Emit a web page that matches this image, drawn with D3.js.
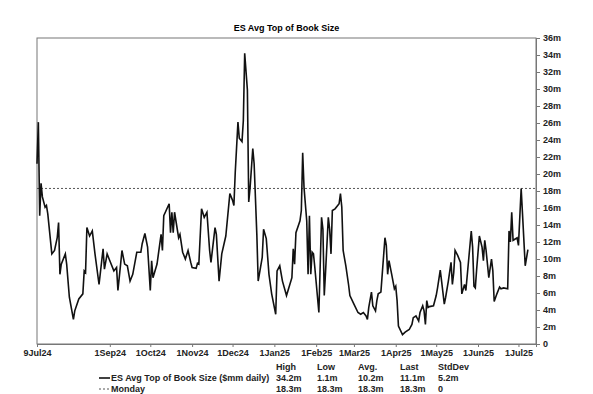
<!DOCTYPE html>
<html>
<head>
<meta charset="utf-8">
<script src="https://cdn.jsdelivr.net/npm/d3@7"></script>
<style>
  body { margin: 0; background: #fff; }
  svg { display: block; font-family: "Liberation Sans", Arial, sans-serif; }
</style>
</head>
<body>
<div id="chart"></div>
<script>
const title = "ES Avg Top of Book Size";
const seriesName = "ES Avg Top of Book Size ($mm daily)";
const refName = "Monday";
const refValue = 18.3;

const dates = [
  "2024-07-09","2024-07-10","2024-07-11","2024-07-12","2024-07-13","2024-07-15","2024-07-16","2024-07-17",
  "2024-07-20","2024-07-22","2024-07-24","2024-07-25","2024-07-26","2024-07-27","2024-07-30","2024-07-31",
  "2024-08-02","2024-08-05","2024-08-06","2024-08-09","2024-08-12","2024-08-13","2024-08-14","2024-08-15",
  "2024-08-17","2024-08-19","2024-08-21","2024-08-24","2024-08-27","2024-08-28","2024-08-30","2024-09-01",
  "2024-09-04","2024-09-06","2024-09-07","2024-09-09","2024-09-10","2024-09-12","2024-09-14","2024-09-16",
  "2024-09-18","2024-09-21","2024-09-24","2024-09-25","2024-09-27","2024-09-29","2024-10-01","2024-10-02",
  "2024-10-03","2024-10-06","2024-10-09","2024-10-10","2024-10-11","2024-10-15","2024-10-16","2024-10-17",
  "2024-10-18","2024-10-19","2024-10-20","2024-10-22","2024-10-23","2024-10-25","2024-10-27","2024-10-29",
  "2024-10-31","2024-11-01","2024-11-04","2024-11-05","2024-11-06","2024-11-08","2024-11-10","2024-11-12",
  "2024-11-14","2024-11-15","2024-11-18","2024-11-19","2024-11-21","2024-11-23","2024-11-26","2024-11-29",
  "2024-12-01","2024-12-02","2024-12-03","2024-12-05","2024-12-06","2024-12-08","2024-12-09","2024-12-10",
  "2024-12-12","2024-12-13","2024-12-14","2024-12-16","2024-12-17","2024-12-19","2024-12-20","2024-12-23",
  "2024-12-24","2024-12-26","2024-12-28","2024-12-30","2025-01-02","2025-01-03","2025-01-05","2025-01-07",
  "2025-01-10","2025-01-14","2025-01-15","2025-01-16","2025-01-17","2025-01-20","2025-01-21","2025-01-22",
  "2025-01-23","2025-01-25","2025-01-26","2025-01-27","2025-01-28","2025-01-29","2025-01-30","2025-01-31",
  "2025-02-03","2025-02-05","2025-02-06","2025-02-07","2025-02-08","2025-02-10","2025-02-11","2025-02-12",
  "2025-02-13","2025-02-15","2025-02-18","2025-02-19","2025-02-20","2025-02-21","2025-02-23","2025-02-25",
  "2025-02-26","2025-03-01","2025-03-04","2025-03-06","2025-03-08","2025-03-10","2025-03-11","2025-03-12",
  "2025-03-14","2025-03-15","2025-03-17","2025-03-18","2025-03-19","2025-03-21","2025-03-24","2025-03-25",
  "2025-03-26","2025-03-27","2025-03-29","2025-03-31","2025-04-01","2025-04-02","2025-04-03","2025-04-06",
  "2025-04-08","2025-04-11","2025-04-13","2025-04-14","2025-04-16","2025-04-18","2025-04-19","2025-04-21",
  "2025-04-22","2025-04-23","2025-04-24","2025-04-25","2025-04-26","2025-04-29","2025-05-01","2025-05-02",
  "2025-05-04","2025-05-05","2025-05-07","2025-05-08","2025-05-10","2025-05-12","2025-05-13","2025-05-14",
  "2025-05-15","2025-05-17","2025-05-19","2025-05-20","2025-05-22","2025-05-23","2025-05-25","2025-05-27",
  "2025-05-28","2025-05-29","2025-05-30","2025-05-31","2025-06-02","2025-06-04","2025-06-05","2025-06-06",
  "2025-06-07","2025-06-09","2025-06-11","2025-06-12","2025-06-13","2025-06-15","2025-06-17","2025-06-18",
  "2025-06-20","2025-06-23","2025-06-24","2025-06-25","2025-06-26","2025-06-27","2025-06-28","2025-06-30",
  "2025-07-01","2025-07-03","2025-07-04","2025-07-06","2025-07-08"
];

const values = [
  21.2, 26.1, 15.1, 18.9, 17.3, 16.1, 16.3, 15.3,
  10.6, 11.0, 12.5, 14.3, 8.2, 9.4, 10.6, 9.4,
  5.5, 2.9, 3.9, 5.3, 5.9, 8.6, 8.4, 13.7,
  12.7, 13.3, 10.6, 7.0, 11.2, 8.8, 10.6, 9.8,
  8.6, 9.0, 6.3, 9.4, 11.0, 9.4, 9.2, 7.4,
  8.2, 10.8, 10.8, 11.8, 13.0, 11.4, 6.3, 9.8,
  7.8, 9.4, 12.9, 11.0, 15.1, 16.5, 13.1, 15.5,
  13.1, 15.5, 14.5, 12.5, 12.9, 10.8, 10.0, 11.0,
  9.6, 9.0, 8.9, 9.5, 9.4, 15.9, 14.9, 15.5,
  11.0, 9.6, 13.7, 12.9, 7.4, 10.6, 12.7, 17.7,
  16.9, 16.3, 20.2, 26.1, 24.2, 23.8, 26.3, 34.2,
  29.9, 16.7, 18.4, 23.0, 21.2, 12.9, 7.4, 10.2,
  13.5, 12.4, 8.2, 5.9, 3.5, 8.6, 9.2, 7.4,
  5.7, 7.8, 11.2, 9.4, 13.1, 14.5, 15.7, 22.5,
  18.4, 14.5, 8.2, 15.1, 8.2, 10.8, 10.6, 9.0,
  3.7, 14.9, 13.5, 5.7, 8.6, 14.9, 13.5, 10.6,
  15.7, 15.9, 16.5, 17.7, 16.1, 11.0, 9.2, 7.0,
  5.7, 4.7, 3.7, 3.5, 3.7, 3.3, 2.9, 4.3,
  6.1, 4.5, 3.9, 5.1, 5.9, 6.1, 12.5, 11.6,
  8.2, 9.8, 8.2, 6.5, 6.8, 5.1, 2.1, 1.1,
  1.4, 1.7, 2.3, 3.1, 3.3, 2.7, 3.7, 4.5,
  3.9, 2.3, 5.1, 4.3, 4.4, 4.5, 5.7, 6.6,
  8.7, 7.4, 4.7, 5.5, 7.4, 9.6, 7.0, 8.4,
  11.0, 10.4, 9.6, 5.9, 7.0, 6.3, 9.8, 13.3,
  11.4, 6.8, 6.6, 8.8, 12.7, 11.4, 9.8, 12.2,
  11.0, 7.8, 10.0, 8.6, 5.0, 5.9, 6.7, 6.5,
  6.6, 6.5, 13.3, 12.0, 15.5, 12.2, 12.3, 12.5,
  11.6, 18.3, 15.3, 9.2, 11.1
];

const yTicks = d3.range(0, 37, 2);
const statHeaders = ["High", "Low", "Avg.", "Last", "StdDev"];
const seriesStats = ["34.2m", "1.1m", "10.2m", "11.1m", "5.2m"];
const refStats = ["18.3m", "18.3m", "18.3m", "18.3m", "0"];

const width = 593, height = 394;
const plot = { left: 37, right: 536, top: 38, bottom: 344 };

const parse = d3.utcParse("%Y-%m-%d");
const data = dates.map((d, i) => ({ date: parse(d), value: values[i] }));

const x = d3.scaleUtc()
  .domain([parse("2024-07-09"), parse("2025-07-14")])
  .range([plot.left, plot.right]);

const y = d3.scaleLinear()
  .domain([0, 36])
  .range([plot.bottom, plot.top]);

const svg = d3.select("#chart").append("svg")
  .attr("width", width)
  .attr("height", height);

svg.append("text")
  .attr("x", (plot.left + plot.right) / 2)
  .attr("y", 31)
  .attr("text-anchor", "middle")
  .style("font-size", "9px")
  .style("font-weight", "bold")
  .text(title);

svg.append("rect")
  .attr("x", plot.left)
  .attr("y", plot.top)
  .attr("width", plot.right - plot.left)
  .attr("height", plot.bottom - plot.top)
  .attr("fill", "none")
  .attr("stroke", "#777")
  .attr("stroke-width", 1);

// right-hand value axis
const yAxis = svg.append("g")
  .attr("transform", `translate(${plot.right},0)`)
  .call(d3.axisRight(y).tickValues(yTicks).tickSize(4).tickPadding(3)
    .tickFormat(d => d === 0 ? "0" : d + "m"));
yAxis.select(".domain").attr("stroke", "#777");
yAxis.selectAll(".tick line").attr("stroke", "#777");
yAxis.selectAll("text")
  .attr("fill", "#222")
  .style("font-size", "9px")
  .style("font-weight", "bold")
  .style("font-family", "'Liberation Sans', Arial, sans-serif");

// date axis: first day, then month starts from September
const xTicks = [parse("2024-07-09")].concat(
  d3.utcMonth.range(parse("2024-09-01"), parse("2025-07-02")));
const xAxis = svg.append("g")
  .attr("transform", `translate(0,${plot.bottom})`)
  .call(d3.axisBottom(x).tickValues(xTicks).tickSize(3).tickPadding(3)
    .tickFormat(d3.utcFormat("%-d%b%y")));
xAxis.select(".domain").attr("stroke", "#777");
xAxis.selectAll(".tick line").attr("stroke", "#777");
xAxis.selectAll("text")
  .attr("fill", "#222")
  .style("font-size", "9px")
  .style("font-weight", "bold")
  .style("font-family", "'Liberation Sans', Arial, sans-serif");

svg.append("line")
  .attr("x1", plot.left)
  .attr("x2", plot.right)
  .attr("y1", y(refValue))
  .attr("y2", y(refValue))
  .attr("stroke", "#555")
  .attr("stroke-width", 1)
  .attr("stroke-dasharray", "2,2");

const line = d3.line()
  .x(d => x(d.date))
  .y(d => y(d.value));

svg.append("path")
  .datum(data)
  .attr("fill", "none")
  .attr("stroke", "#111")
  .attr("stroke-width", 1.6)
  .attr("stroke-linejoin", "miter")
  .attr("d", line);

// legend with stats table
const legend = svg.append("g")
  .style("font-size", "9px")
  .style("font-weight", "bold")
  .attr("fill", "#222");

const statX = [276, 317, 358, 400, 438];
const rowY = [370, 381, 392];

statHeaders.forEach((h, i) => {
  legend.append("text").attr("x", statX[i]).attr("y", rowY[0]).text(h);
});
seriesStats.forEach((s, i) => {
  legend.append("text").attr("x", statX[i]).attr("y", rowY[1]).text(s);
});
refStats.forEach((s, i) => {
  legend.append("text").attr("x", statX[i]).attr("y", rowY[2]).text(s);
});

legend.append("line")
  .attr("x1", 99).attr("x2", 110)
  .attr("y1", rowY[1] - 3).attr("y2", rowY[1] - 3)
  .attr("stroke", "#111").attr("stroke-width", 1.6);
legend.append("text").attr("x", 111).attr("y", rowY[1]).text(seriesName);

legend.append("line")
  .attr("x1", 99).attr("x2", 110)
  .attr("y1", rowY[2] - 3).attr("y2", rowY[2] - 3)
  .attr("stroke", "#555").attr("stroke-width", 1)
  .attr("stroke-dasharray", "2,2");
legend.append("text").attr("x", 111).attr("y", rowY[2]).text(refName);
</script>
</body>
</html>
